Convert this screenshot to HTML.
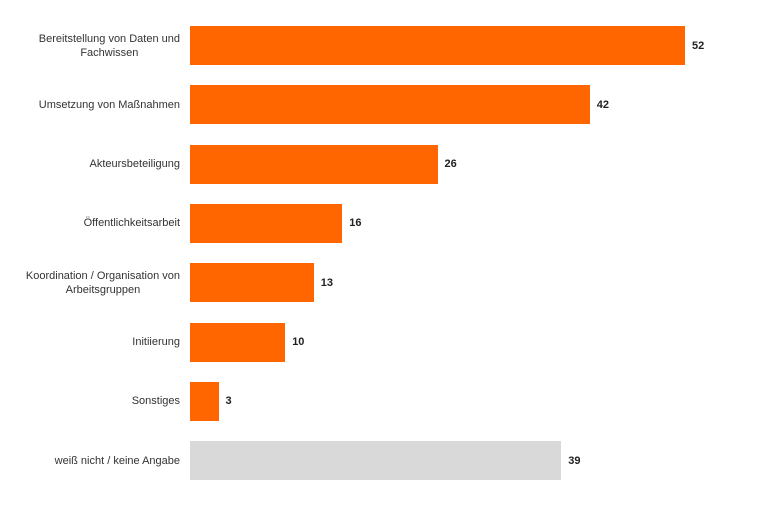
<!DOCTYPE html>
<html><head><meta charset="utf-8">
<style>
body{margin:0;width:760px;height:506px;background:#fff;position:relative;overflow:hidden;font-family:"Liberation Sans",sans-serif}
.lbl{position:absolute;right:580px;transform:translateY(-50%);text-align:center;font-size:11px;color:#333;line-height:14px;white-space:nowrap}
.bar{position:absolute;height:39px}
.val{position:absolute;transform:translateY(-50%);font-size:11px;font-weight:bold;color:#222}
</style></head><body>
<div id="chart"></div>
<script>
const categories=["Bereitstellung von Daten und<br>Fachwissen","Umsetzung von Maßnahmen","Akteursbeteiligung","Öffentlichkeitsarbeit","Koordination / Organisation von<br>Arbeitsgruppen","Initiierung","Sonstiges","weiß nicht / keine Angabe"];
const values=[52,42,26,16,13,10,3,39];
const valueLabels=["52","42","26","16","13","10","3","39"];
const x0=190, scale=495/52, top0=26, pitch=59.3, bh=39;
const xs=v=>v*scale;
const ys=i=>top0+i*pitch;
const root=document.getElementById('chart');
values.forEach((v,i)=>{
  const y=ys(i);
  const l=document.createElement('div');
  l.className='lbl';l.innerHTML=categories[i];l.style.top=(y+bh/2)+'px';
  
  
  root.appendChild(l);
  const b=document.createElement('div');
  b.className='bar';b.style.left=x0+'px';b.style.top=y+'px';b.style.width=xs(v)+'px';
  b.style.background=i===values.length-1?'#d9d9d9':'#ff6600';
  
  
  root.appendChild(b);
  const t=document.createElement('div');
  t.className='val';t.textContent=valueLabels[i];t.style.left=(x0+xs(v)+7)+'px';t.style.top=(y+bh/2)+'px';
  
  
  root.appendChild(t);
});
</script>
</body></html>
